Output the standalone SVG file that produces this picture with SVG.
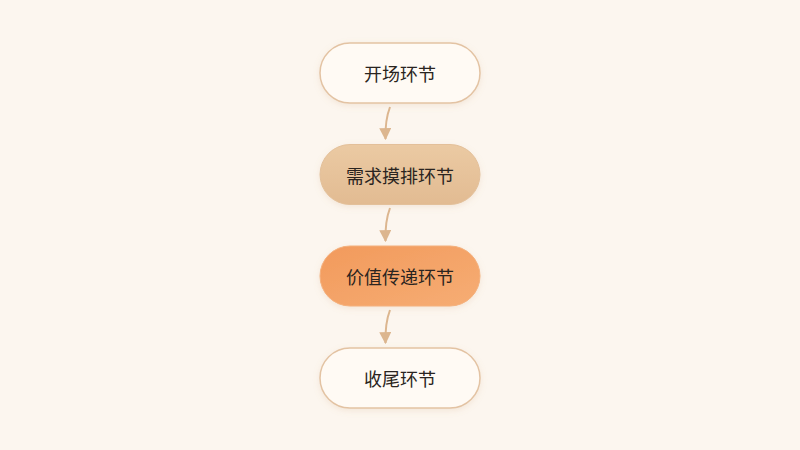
<svg xmlns="http://www.w3.org/2000/svg" width="800" height="450" viewBox="0 0 800 450">
<defs>
<style>
.lbl{font-family:"Noto Sans CJK SC","Noto Sans",sans-serif;font-size:18px;fill:#2a2420;text-anchor:middle;dominant-baseline:central}
.plain{fill:#fffaf4;stroke:#e3c3a3;stroke-width:1.5}
.conn{fill:none;stroke:#dcb68f;stroke-width:2}
</style>
<linearGradient id="g2" x1="0" y1="0" x2="0" y2="1"><stop offset="0" stop-color="#ebcaa3"/><stop offset="1" stop-color="#e2bb92"/></linearGradient>
<linearGradient id="g3" x1="0" y1="0" x2="1" y2="1"><stop offset="0" stop-color="#f29a5c"/><stop offset="1" stop-color="#f6ad74"/></linearGradient>
<filter id="sh" x="-20%" y="-30%" width="140%" height="160%"><feDropShadow dx="0" dy="2" stdDeviation="3" flood-color="#c89a70" flood-opacity="0.18"/></filter>
<marker id="ah" viewBox="0 0 10 10" refX="9" refY="5" markerWidth="6" markerHeight="6" orient="auto"><path d="M0,0 L10,5 L0,10 z" fill="#dcb68f"/></marker>
</defs>
<rect width="800" height="450" fill="#fcf6ef"/>
<g id="connectors">
<path class="conn" d="M390,107 Q385,120 385.5,139" marker-end="url(#ah)"/>
<path class="conn" d="M390,208 Q385,221 385.5,241" marker-end="url(#ah)"/>
<path class="conn" d="M390,310 Q385,323 385.5,343" marker-end="url(#ah)"/>
</g>
<g id="n1"><rect class="plain" x="320" y="43" width="160" height="60" rx="30" filter="url(#sh)"/><text class="lbl" x="400" y="73">开场环节</text></g>
<g id="n2"><rect x="320" y="144.5" width="160" height="60" rx="30" fill="url(#g2)" stroke="#e3c09a" stroke-width="1" filter="url(#sh)"/><text class="lbl" x="400" y="174.5">需求摸排环节</text></g>
<g id="n3"><rect x="320" y="246" width="160" height="60" rx="30" fill="url(#g3)" stroke="#f4b07c" stroke-width="1" filter="url(#sh)"/><text class="lbl" x="400" y="276">价值传递环节</text></g>
<g id="n4"><rect class="plain" x="320" y="348" width="160" height="60" rx="30" filter="url(#sh)"/><text class="lbl" x="400" y="378">收尾环节</text></g>
</svg>
